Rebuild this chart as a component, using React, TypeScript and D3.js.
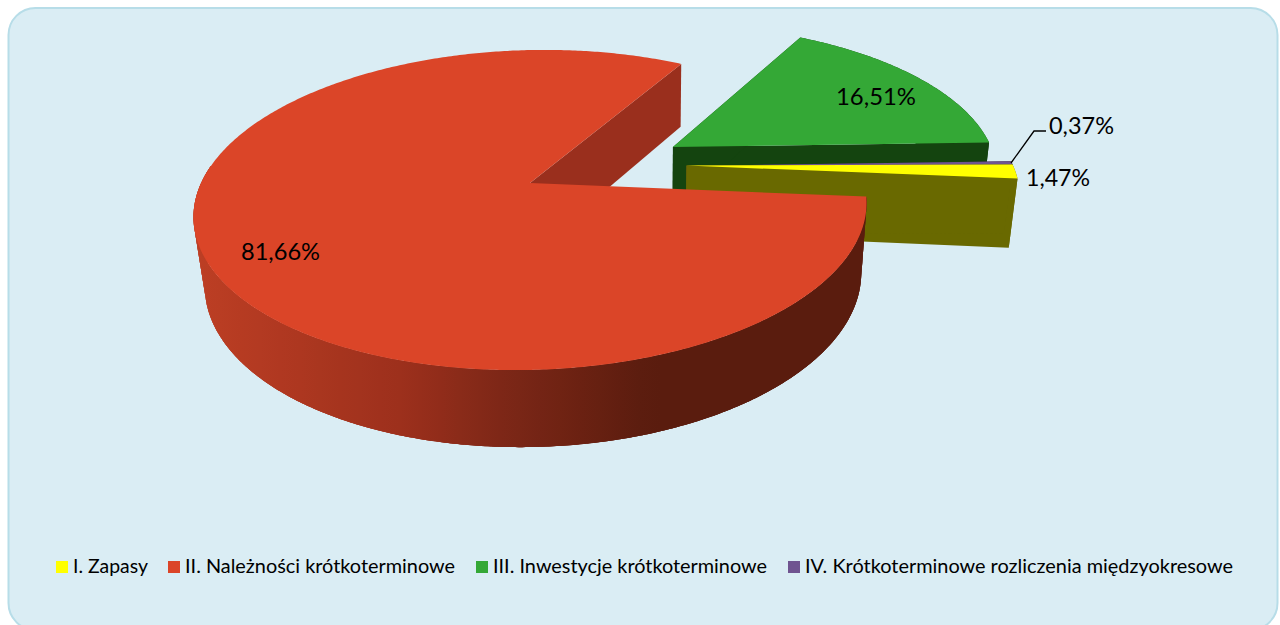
import React from 'react';
import * as d3 from 'd3';

const categories = ['I. Zapasy', 'II. Należności krótkoterminowe', 'III. Inwestycje krótkoterminowe', 'IV. Krótkoterminowe rozliczenia międzyokresowe'];
const values = [1.47, 81.66, 16.51, 0.37];
const valueLabels = ['1,47%', '81,66%', '16,51%', '0,37%'];

const topColors = ['#ffff00', '#db4528', '#34a836', '#6f5490'];
const wallColors = ['#696900', '#9a2f1d', '#14440f', '#2a1f38'];

// how far each slice is pulled out, in units of the pie radius (du, dv)
const explode = [[0.479, -0.092], [0, 0], [0.447, -0.22], [0.479, -0.09]];
// pulled out slices come out a little smaller than the main one
const sliceScale = [0.99, 1, 0.985, 0.99];

// label anchor x, baseline y, width
const labelBoxes = [[1026, 185.5, 64], [241, 260, 79], [836, 105, 80], [1049, 133.5, 65]];
const legendSwatchX = [56, 168, 476, 788];
const legendTextX = [73, 185, 493, 805];
const legendTextW = [75, 270, 274, 428];

const FONT = 'Lato, "Open Sans", sans-serif';

// perspective projection of the pie plane to the screen
const cx = 530, cy = 183;
const R = 331.7, S = 155.4, K = -7, P = 0.1688;
const Q = 0.0245, T = 70.5, TX = 3;

const project = (u: number, v: number, z: number): [number, number] => {
  const w = 1 - P * v + Q * z;
  return [cx + (R * u + TX * z) / w, cy + (S * v + K * u + T * z) / w];
};

const START = (92.2 * Math.PI) / 180;
const arcs = d3.pie<number>().sort(null).startAngle(START).endAngle(START + 2 * Math.PI)(values);

const line = d3.line();

const rim = (i: number, a0: number, a1: number, z: number) => {
  const o = explode[i];
  const s = sliceScale[i];
  const n = Math.max(2, Math.ceil(Math.abs(a1 - a0) / 0.01));
  return d3.range(n + 1).map((k) => {
    const a = a0 + ((a1 - a0) * k) / n - Math.PI / 2;
    return project(s * Math.cos(a) + o[0], s * Math.sin(a) + o[1], z);
  });
};

const topPath = (i: number) => {
  const o = explode[i];
  return line([project(o[0], o[1], 0), ...rim(i, arcs[i].startAngle, arcs[i].endAngle, 0)]) + 'Z';
};

// cut face on the edge of a slice
const cutPath = (i: number, a: number) => {
  const o = explode[i];
  return line([project(o[0], o[1], 0), rim(i, a, a, 0)[0], rim(i, a, a, 1)[0], project(o[0], o[1], 1)]) + 'Z';
};

// outer wall between two angles
const wallPath = (i: number, a0: number, a1: number) =>
  line([...rim(i, a0, a1, 0), ...rim(i, a0, a1, 1).reverse()]) + 'Z';

const redShade = d3.scaleLinear<string>()
  .domain([200, 400, 500, 650, 860])
  .range(['#bc3e24', '#9d301c', '#7e2717', '#5a1c0e', '#5a1c0e']);

const gradientStops = d3.range(200, 861, 20);

const WALL_END = Math.PI * 1.55;

// narrow strips over the wall, so its left edge follows the silhouette
const redWallStrips = () => {
  const a0 = arcs[1].startAngle;
  const edges = d3.range(0, 91).map((k) => a0 + ((WALL_END - a0) * k) / 90);
  return d3.pairs(edges).map(([a, b]) => wallPath(1, a, b));
};

export default function App() {
  const red = arcs[1];
  const order = [2, 3, 0];
  const legendY = 573;
  return (
    <svg width={1280} height={625} style={{ position: 'absolute', left: 0, top: 0 }} fontFamily={FONT}>
      <defs>
        <linearGradient id="redWall" gradientUnits="userSpaceOnUse" x1={200} x2={860} y1={0} y2={0}>
          {gradientStops.map((x) => (
            <stop key={x} offset={(x - 200) / 660} stopColor={redShade(x)} />
          ))}
        </linearGradient>
      </defs>
      <rect x={0} y={0} width={1280} height={625} fill="#ffffff" />
      <rect x={8.5} y={8} width={1269} height={622} rx={27} ry={27} fill="#daedf4" stroke="#b7dde8" strokeWidth={2} />

      {order.map((i) => (
        <g key={i}>
          <path d={wallPath(i, arcs[i].startAngle, arcs[i].endAngle)} fill={wallColors[i]} />
          <path d={cutPath(i, arcs[i].endAngle)} fill={wallColors[i]} />
          <path d={cutPath(i, arcs[i].startAngle)} fill={wallColors[i]} />
          <path d={topPath(i)} fill={topColors[i]} />
        </g>
      ))}

      <path d={cutPath(1, red.endAngle)} fill={wallColors[1]} />
      <g fill="url(#redWall)">
        {redWallStrips().map((d, i) => (
          <path key={i} d={d} />
        ))}
        <path d={wallPath(1, red.startAngle, WALL_END)} />
        {redWallStrips().map((d, i) => (
          <path key={i} d={d} />
        ))}
      </g>
      <path d={topPath(1)} fill={topColors[1]} />

      <path d={line([[1011, 163], [1034, 131], [1046, 131]]) as string} fill="none" stroke="#000000" strokeWidth={1.3} />

      {valueLabels.map((t, i) => (
        <text key={t} x={labelBoxes[i][0]} y={labelBoxes[i][1]} fontSize={24} fill="#000000"
          textLength={labelBoxes[i][2]} lengthAdjust="spacingAndGlyphs">{t}</text>
      ))}

      {categories.map((c, i) => (
        <g key={c}>
          <rect x={legendSwatchX[i]} y={561} width={12} height={12} fill={topColors[i]} />
          <text x={legendTextX[i]} y={legendY} fontSize={18.5} fill="#000000"
            textLength={legendTextW[i]} lengthAdjust="spacingAndGlyphs">{c}</text>
        </g>
      ))}
    </svg>
  );
}
